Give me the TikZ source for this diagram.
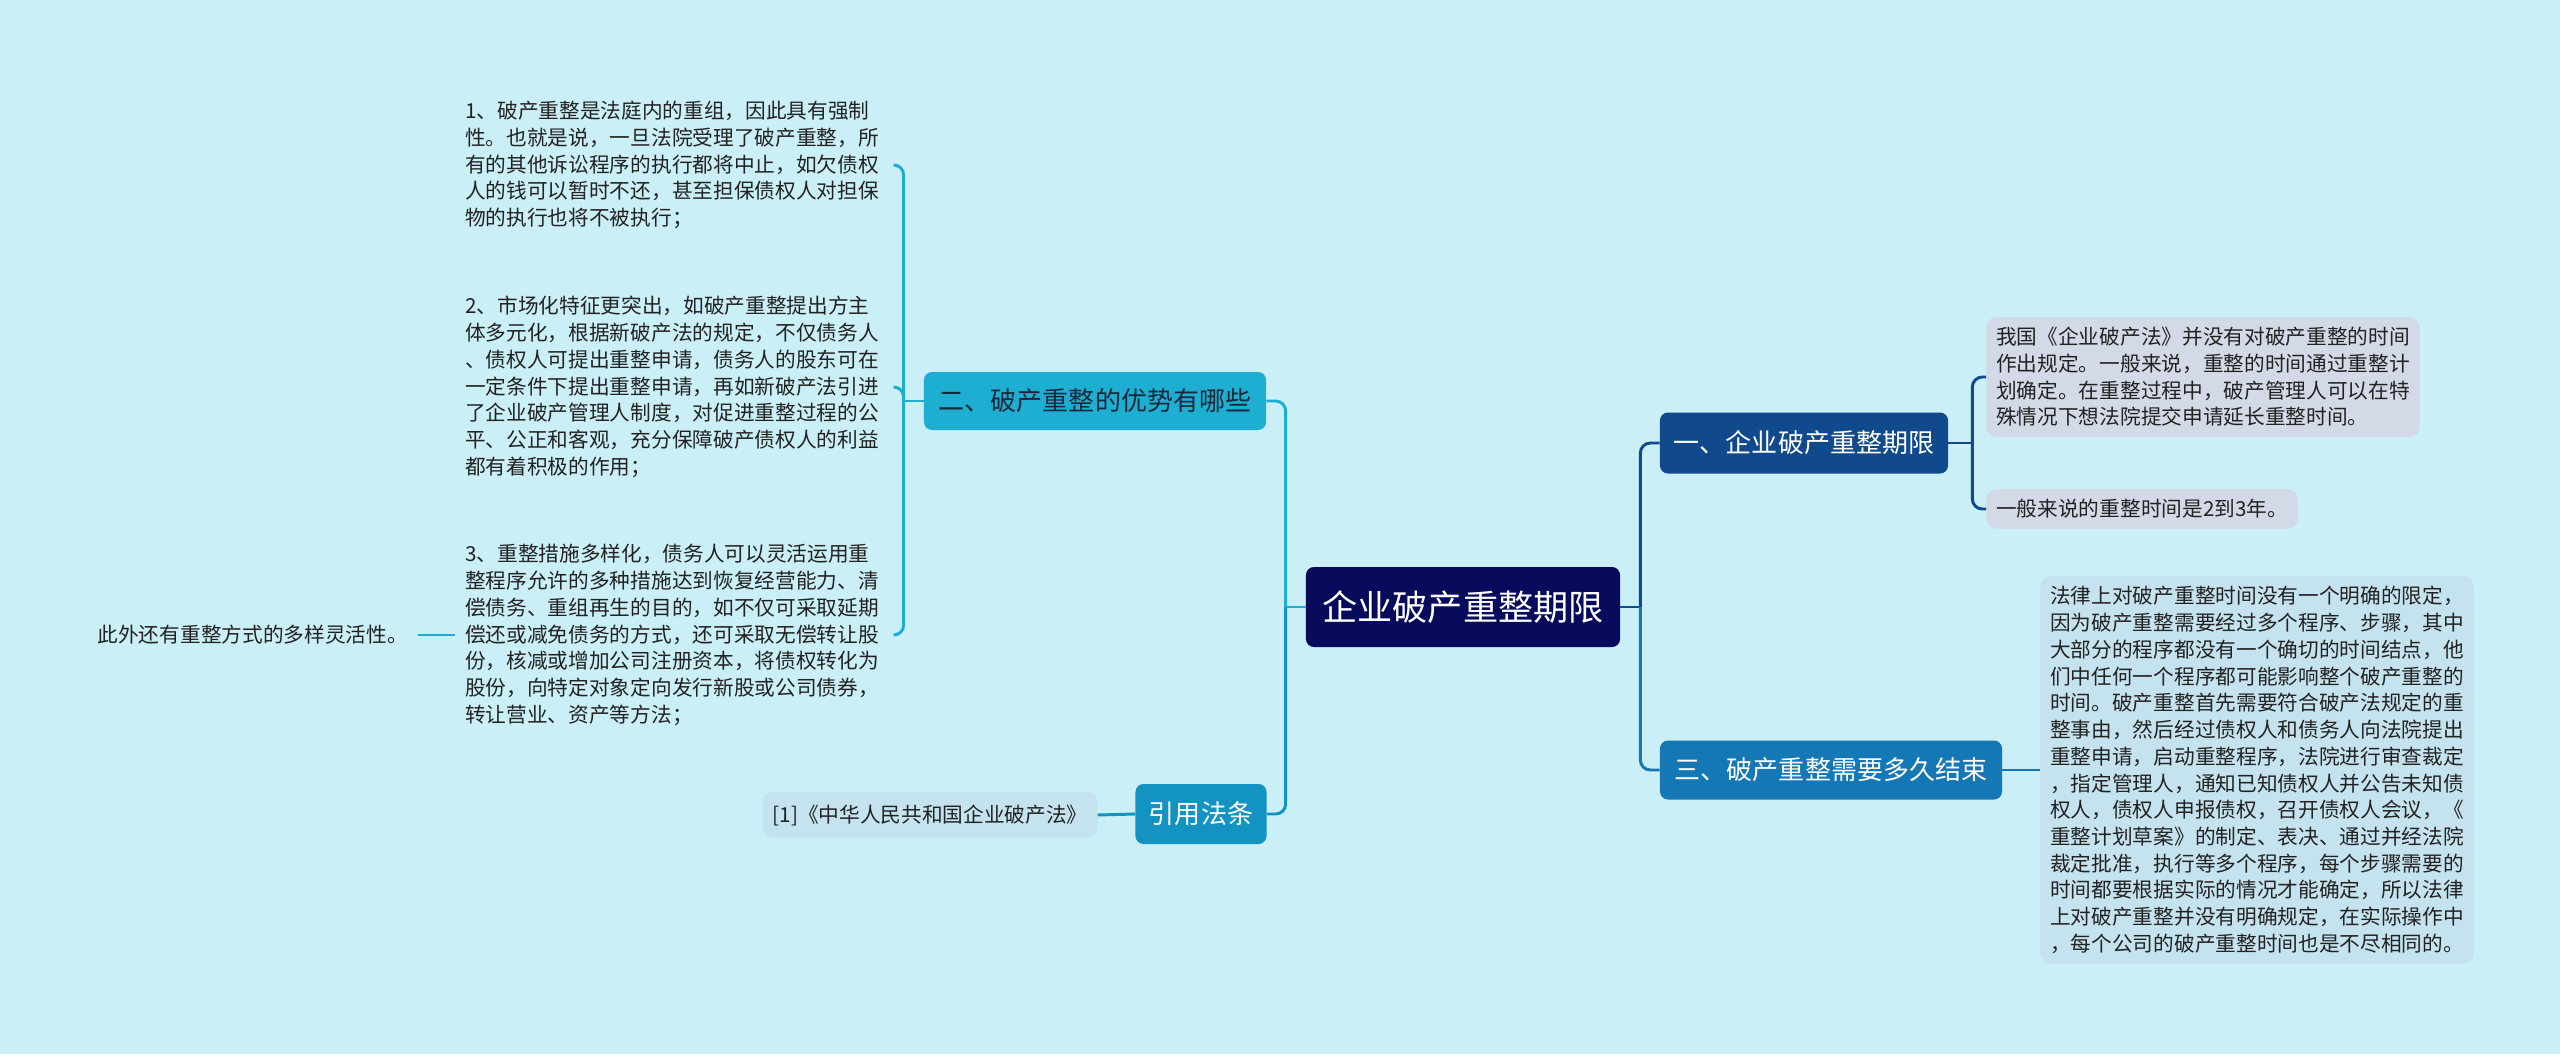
\documentclass[tikz,border=0pt]{standalone}
\usepackage{fontspec}
\usepackage{xcolor}
\usepackage{tikz}
\usetikzlibrary{positioning}
\newfontfamily\zhfont{Noto Sans CJK SC}
\definecolor{bgcol}{RGB}{202,239,247}
\definecolor{rootcol}{RGB}{8,10,92}
\definecolor{onecol}{RGB}{16,74,140}
\definecolor{threecol}{RGB}{22,119,181}
\definecolor{twocol}{RGB}{30,174,210}
\definecolor{refcol}{RGB}{19,147,194}
\definecolor{greyleaf}{RGB}{211,217,230}
\definecolor{blueleaf}{RGB}{197,227,239}
\definecolor{txtcol}{RGB}{34,34,34}
\definecolor{twotxt}{RGB}{24,40,58}

\begin{document}
\begin{tikzpicture}[x=0.025cm, y=-0.025cm, every node/.style={font=\zhfont},
  root/.style={fill=rootcol, text=white, rounded corners=0.2cm,
    font=\zhfont\fontsize{25pt}{30pt}\selectfont, minimum width=7.85cm, minimum height=2cm},
  topic/.style={rounded corners=0.2cm, font=\zhfont\fontsize{18.5pt}{22pt}\selectfont, minimum height=1.5cm},
  leaf/.style={align=left, text=txtcol, font=\zhfont\fontsize{14.7pt}{19pt}\selectfont,
    inner xsep=0.25cm, inner ysep=0.25cm},
  boxleaf/.style={leaf, rounded corners=0.25cm},
  wire/.style={line width=2.1pt},
  rc/.style={rounded corners=0.25cm}]
  \fill[bgcol] (0,0) rectangle (2560,1054);
  \useasboundingbox (0,0) rectangle (2560,1054);

  % centre and main topics
  \node[root] (root) at (1463,607) {企业破产重整期限};
  \node[topic, fill=twocol, text=twotxt, minimum width=8.55cm, minimum height=1.45cm] (two) at (1095,401) {二、破产重整的优势有哪些};
  \node[topic, fill=refcol, text=white, minimum width=3.275cm] (law) at (1201,814) {引用法条};
  \node[topic, fill=onecol, text=white, minimum width=7.2cm, minimum height=1.525cm] (one) at (1804,443) {一、企业破产重整期限};
  \node[topic, fill=threecol, text=white, minimum width=8.55cm, minimum height=1.475cm] (three) at (1831,770) {三、破产重整需要多久结束};

  % left leaves
  \node[leaf, anchor=west, text width=10.45cm] (adv1) at (455,165) {1、破产重整是法庭内的重组，因此具有强制\\
性。也就是说，一旦法院受理了破产重整，所\\
有的其他诉讼程序的执行都将中止，如欠债权\\
人的钱可以暂时不还，甚至担保债权人对担保\\
物的执行也将不被执行；};
  \node[leaf, anchor=west, text width=10.45cm] (adv2) at (455,387) {2、市场化特征更突出，如破产重整提出方主\\
体多元化，根据新破产法的规定，不仅债务人\\
、债权人可提出重整申请，债务人的股东可在\\
一定条件下提出重整申请，再如新破产法引进\\
了企业破产管理人制度，对促进重整过程的公\\
平、公正和客观，充分保障破产债权人的利益\\
都有着积极的作用；};
  \node[leaf, anchor=west, text width=10.45cm] (adv3) at (455,635) {3、重整措施多样化，债务人可以灵活运用重\\
整程序允许的多种措施达到恢复经营能力、清\\
偿债务、重组再生的目的，如不仅可采取延期\\
偿还或减免债务的方式，还可采取无偿转让股\\
份，核减或增加公司注册资本，将债权转化为\\
股份，向特定对象定向发行新股或公司债券，\\
转让营业、资产等方法；};
  \node[leaf, anchor=east] (extra) at (418,635) {此外还有重整方式的多样灵活性。};
  \node[boxleaf, fill=blueleaf, minimum width=8.35cm, minimum height=1.15cm] (lawtxt) at (930,815) {[1]《中华人民共和国企业破产法》};

  % right leaves
  \node[boxleaf, fill=greyleaf, anchor=west] (term1) at (1986,377) {我国《企业破产法》并没有对破产重整的时间\\
作出规定。一般来说，重整的时间通过重整计\\
划确定。在重整过程中，破产管理人可以在特\\
殊情况下想法院提交申请延长重整时间。};
  \node[boxleaf, fill=greyleaf, anchor=west] (term2) at (1986,509) {一般来说的重整时间是2到3年。};
  \node[boxleaf, fill=blueleaf, anchor=west] (howlong) at (2040,770) {法律上对破产重整时间没有一个明确的限定，\\
因为破产重整需要经过多个程序、步骤，其中\\
大部分的程序都没有一个确切的时间结点，他\\
们中任何一个程序都可能影响整个破产重整的\\
时间。破产重整首先需要符合破产法规定的重\\
整事由，然后经过债权人和债务人向法院提出\\
重整申请，启动重整程序，法院进行审查裁定\\
，指定管理人，通知已知债权人并公告未知债\\
权人，债权人申报债权，召开债权人会议，《\\
重整计划草案》的制定、表决、通过并经法院\\
裁定批准，执行等多个程序，每个步骤需要的\\
时间都要根据实际的情况才能确定，所以法律\\
上对破产重整并没有明确规定，在实际操作中\\
，每个公司的破产重整时间也是不尽相同的。};

  % junctions
  \coordinate[left=0.5cm of root] (jl);
  \coordinate[right=0.5cm of root] (jr);
  \coordinate[left=0.5cm of two] (jtwo);
  \coordinate[right=0.6cm of one] (jone);

  % connectors
  \draw[wire, twocol] (root.west) -- (jl);
  \draw[wire, twocol, rc] (jl) |- (two.east);
  \draw[wire, refcol, rc] (jl) |- (law.east);
  \draw[wire, onecol] (root.east) -- (jr);
  \draw[wire, onecol, rc] (jr) |- (one.west);
  \draw[wire, threecol, rc] (jr) |- (three.west);
  \draw[wire, twocol] (two.west) -- (jtwo);
  \foreach \n in {adv1,adv2,adv3}
    \draw[wire, twocol, rc] (jtwo) |- (\n.east);
  \draw[wire, twocol] (adv3.west) -- (extra.east);
  \draw[wire, refcol] (law.west) -- (lawtxt.east);
  \draw[wire, onecol] (one.east) -- (jone);
  \draw[wire, onecol, rc] (jone) |- (term1.west);
  \draw[wire, onecol, rc] (jone) |- (term2.west);
  \draw[wire, threecol] (three.east) -- (howlong.west);
\end{tikzpicture}
\end{document}
